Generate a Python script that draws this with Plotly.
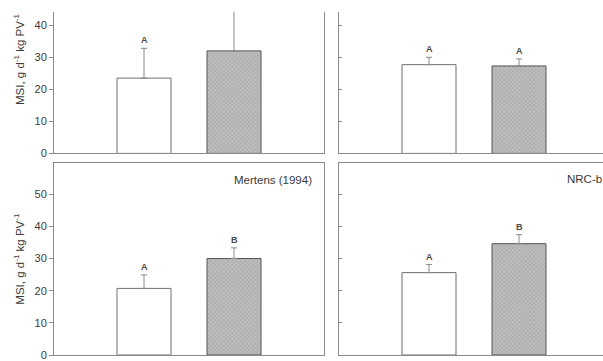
import plotly.graph_objects as go

# MSI per treatment group, four panels
groups = ["Control", "Treatment"]

msi_top_left = [23.5, 32.0]
err_top_left = [9.3, 13.0]
lbl_top_left = ["A", ""]

msi_top_right = [27.7, 27.3]
err_top_right = [2.3, 2.2]
lbl_top_right = ["A", "A"]

msi_bottom_left = [20.7, 30.0]
err_bottom_left = [4.2, 3.3]
lbl_bottom_left = ["A", "B"]

msi_bottom_right = [25.6, 34.6]
err_bottom_right = [2.5, 2.8]
lbl_bottom_right = ["A", "B"]

panel_titles = ["", "", "Mertens (1994)", "NRC-b"]
y_title = "MSI, g d<sup>-1</sup> kg PV<sup>-1</sup>"

W, H = 603, 361
FONT = "Liberation Sans, Arial, sans-serif"
LINE = "#8a8a8a"
TXT = "#3a3a3a"

data = [
    (msi_top_left, err_top_left, lbl_top_left),
    (msi_top_right, err_top_right, lbl_top_right),
    (msi_bottom_left, err_bottom_left, lbl_bottom_left),
    (msi_bottom_right, err_bottom_right, lbl_bottom_right),
]

xs = [1, 2]
fig = go.Figure()

# axis ids for each panel
ax_ids = [("x", "y"), ("x2", "y2"), ("x3", "y3"), ("x4", "y4")]

annotations = []
for (vals, errs, lbls), (xa, ya) in zip(data, ax_ids):
    # open bar
    fig.add_trace(go.Bar(
        x=[xs[0]], y=[vals[0]], width=0.6, xaxis=xa, yaxis=ya,
        marker=dict(color="white", line=dict(color="#6e6e6e", width=1)),
        error_y=dict(type="data", array=[errs[0]], arrayminus=[0], symmetric=False,
                     color=LINE, thickness=1, width=3),
        showlegend=False, hoverinfo="skip",
    ))
    # hatched bar
    fig.add_trace(go.Bar(
        x=[xs[1]], y=[vals[1]], width=0.6, xaxis=xa, yaxis=ya,
        marker=dict(color="#b5b5b5", line=dict(color="#555555", width=1),
                    pattern=dict(shape="x", fgcolor="#858585", bgcolor="#bebebe",
                                 size=3, solidity=0.35)),
        error_y=dict(type="data", array=[errs[1]], arrayminus=[0], symmetric=False,
                     color=LINE, thickness=1, width=3),
        showlegend=False, hoverinfo="skip",
    ))
    for xv, v, e, t in zip(xs, vals, errs, lbls):
        if t:
            annotations.append(dict(
                x=xv, y=v + e, xref=xa, yref=ya, text="<b>" + t + "</b>",
                showarrow=False, yanchor="middle", yshift=8,
                font=dict(family=FONT, size=9, color="#4a4a4a"),
            ))

# panel geometry (pixel-based)
def px_x(a, b):
    return [a / W, b / W]

def px_y(top, bottom):
    return [1 - bottom / H, 1 - top / H]

left_dom = px_x(54, 324)
right_dom = px_x(339, 603)
top_dom = px_y(12, 156)
bot_dom = px_y(166, 361)

common_x = dict(showline=True, linecolor=LINE, linewidth=1, showgrid=False,
                zeroline=False, showticklabels=False, ticks="", fixedrange=True)
common_y = dict(showline=True, linecolor=LINE, linewidth=1, showgrid=False,
                zeroline=False, tickfont=dict(family=FONT, size=11, color=TXT),
                tickcolor=LINE, ticklen=4, dtick=10, fixedrange=True)

fig.update_layout(
    width=W, height=H,
    margin=dict(l=0, r=0, t=0, b=0),
    paper_bgcolor="white", plot_bgcolor="white",
    barmode="overlay",
    xaxis=dict(common_x, domain=left_dom, range=[0, 3], anchor="y", mirror=False),
    yaxis=dict(common_y, domain=top_dom, range=[0, 44.2], anchor="x",
               ticks="outside", mirror=True),
    xaxis2=dict(common_x, domain=right_dom, range=[0, 3 * 264 / 270], anchor="y2"),
    yaxis2=dict(common_y, domain=top_dom, range=[0, 44.2], anchor="x2",
                ticks="inside", ticklen=3, showticklabels=False),
    xaxis3=dict(common_x, domain=left_dom, range=[0, 3], anchor="y3", mirror=True),
    yaxis3=dict(common_y, domain=bot_dom, range=[0, 59.6], anchor="x3",
                ticks="outside", mirror=True),
    xaxis4=dict(common_x, domain=right_dom, range=[0, 3 * 264 / 270], anchor="y4",
                mirror=True),
    yaxis4=dict(common_y, domain=bot_dom, range=[0, 59.6], anchor="x4",
                ticks="inside", ticklen=3, showticklabels=False),
)

# panel labels
annotations.append(dict(
    x=314 / W, y=1 - 183 / H, xref="paper", yref="paper", text=panel_titles[2],
    showarrow=False, xanchor="right", yanchor="middle",
    font=dict(family=FONT, size=11.5, color=TXT),
))
annotations.append(dict(
    x=565 / W, y=1 - 182 / H, xref="paper", yref="paper", text=panel_titles[3],
    showarrow=False, xanchor="left", yanchor="middle",
    font=dict(family=FONT, size=11.5, color=TXT),
))

# y-axis titles
for cy in (60, 263):
    annotations.append(dict(
        x=19 / W, y=1 - cy / H, xref="paper", yref="paper", text=y_title,
        showarrow=False, textangle=-90, xanchor="center", yanchor="middle",
        font=dict(family=FONT, size=11.5, color=TXT),
    ))

fig.update_layout(annotations=annotations)
fig.write_html("out.html")
